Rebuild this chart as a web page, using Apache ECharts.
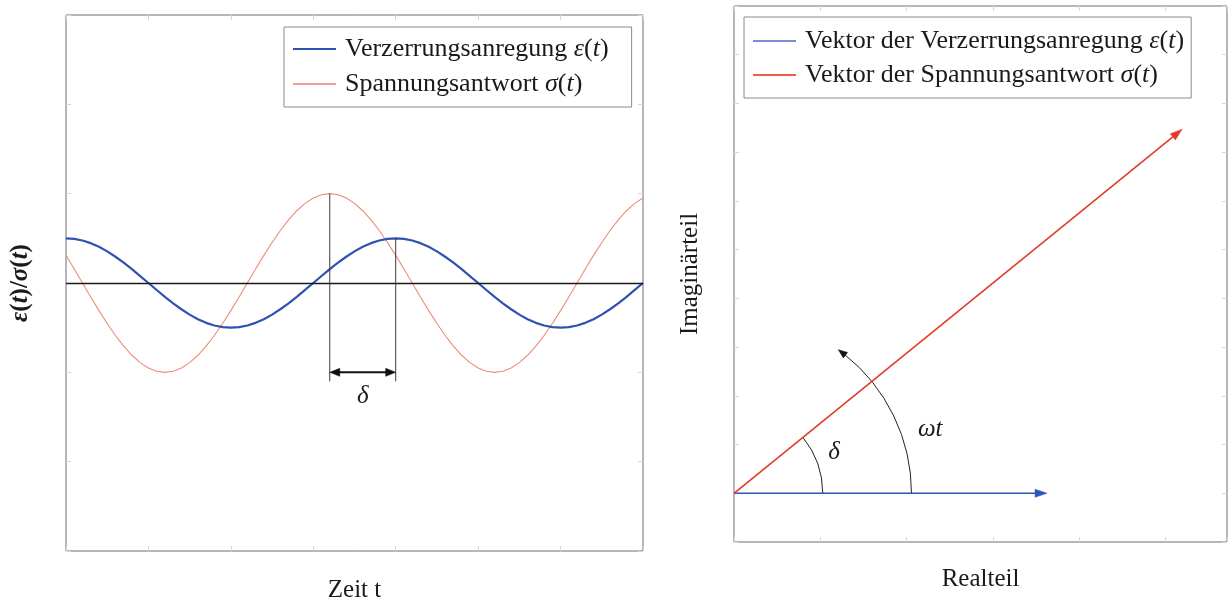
<!DOCTYPE html>
<html lang="de">
<head>
<meta charset="utf-8">
<title>Verzerrungsanregung und Spannungsantwort</title>
<script src="https://cdn.jsdelivr.net/npm/echarts@6/dist/echarts.min.js"></script>
<style>
html, body { margin: 0; padding: 0; background: #fff; }
#chart { width: 1230px; height: 599px; }
</style>
</head>
<body>
<div id="chart"></div>
<script>
// Zeitachse (eine Periode entspricht 4 Einheiten)
const zeit = [
  0, 0.1, 0.2, 0.3, 0.4, 0.5, 0.6, 0.7, 0.8, 0.9, 1, 1.1, 1.2, 1.3, 1.4, 1.5, 1.6, 1.7, 1.8, 1.9,
  2, 2.1, 2.2, 2.3, 2.4, 2.5, 2.6, 2.7, 2.8, 2.9, 3, 3.1, 3.2, 3.3, 3.4, 3.5, 3.6, 3.7, 3.8, 3.9,
  4, 4.1, 4.2, 4.3, 4.4, 4.5, 4.6, 4.7, 4.8, 4.9, 5, 5.1, 5.2, 5.3, 5.4, 5.5, 5.6, 5.7, 5.8, 5.9,
  6, 6.1, 6.2, 6.3, 6.4, 6.5, 6.6, 6.7, 6.8, 6.9, 7];
// Verzerrungsanregung ε(t)
const verzerrung = [
  0.500, 0.494, 0.476, 0.446, 0.405, 0.354, 0.294, 0.227, 0.155, 0.078, 0,
  -0.078, -0.155, -0.227, -0.294, -0.354, -0.405, -0.446, -0.476, -0.494, -0.500,
  -0.494, -0.476, -0.446, -0.405, -0.354, -0.294, -0.227, -0.155, -0.078, 0,
  0.078, 0.155, 0.227, 0.294, 0.354, 0.405, 0.446, 0.476, 0.494, 0.500,
  0.494, 0.476, 0.446, 0.405, 0.354, 0.294, 0.227, 0.155, 0.078, 0,
  -0.078, -0.155, -0.227, -0.294, -0.354, -0.405, -0.446, -0.476, -0.494, -0.500,
  -0.494, -0.476, -0.446, -0.405, -0.354, -0.294, -0.227, -0.155, -0.078, 0];
// Spannungsantwort σ(t), um δ vorauseilend
const spannung = [
  0.309, 0.156, 0,
  -0.156, -0.309, -0.454, -0.588, -0.707, -0.809, -0.891, -0.951, -0.988, -1,
  -0.988, -0.951, -0.891, -0.809, -0.707, -0.588, -0.454, -0.309, -0.156, 0,
  0.156, 0.309, 0.454, 0.588, 0.707, 0.809, 0.891, 0.951, 0.988, 1,
  0.988, 0.951, 0.891, 0.809, 0.707, 0.588, 0.454, 0.309, 0.156, 0,
  -0.156, -0.309, -0.454, -0.588, -0.707, -0.809, -0.891, -0.951, -0.988, -1,
  -0.988, -0.951, -0.891, -0.809, -0.707, -0.588, -0.454, -0.309, -0.156, 0,
  0.156, 0.309, 0.454, 0.588, 0.707, 0.809, 0.891, 0.951];
// Scheitelpunkte, zwischen denen die Phasenverschiebung δ bemaßt wird
const spannungsScheitel = [3.2, 1];
const verzerrungsScheitel = [4, 0.5];
const bemassungsHoehe = -1;
// Zeiger in der komplexen Ebene: [x0, y0, x1, y1]
const zeigerVerzerrung = [0, 0, 6.35, 0];
const zeigerSpannung = [0, 0, 9.09, 7.47];
// Drehwinkel ωt in Grad
const omegaT = 54;

const namenLinks = ['Verzerrungsanregung ε(t)', 'Spannungsantwort σ(t)'];
const namenRechts = ['Vektor der Verzerrungsanregung ε(t)', 'Vektor der Spannungsantwort σ(t)'];

const SERIF = '"Liberation Serif", "Times New Roman", serif';
const TEXT = '#1a1a1a';
const FS = 25;
const FS_LEG = 26;
const BLAU = '#2f52b2';
const ROT = '#f08a7a';
const ZEIGER_BLAU = '#2d55b8';
const ZEIGER_ROT = '#e23c27';

const rich = {
  p: { fontFamily: SERIF, fontSize: FS_LEG, color: TEXT, lineHeight: 24, padding: [0, 0, 0, 4] },
  n: { fontFamily: SERIF, fontSize: FS_LEG, color: TEXT, lineHeight: 24 },
  i: { fontFamily: SERIF, fontSize: FS_LEG, color: TEXT, lineHeight: 24, fontStyle: 'italic' }
};

// "Text ε(t)" -> Rich-Text mit kursiven Formelzeichen
function formel(name) {
  const m = name.match(/^(.*) (\S)\(t\)$/);
  if (!m) return '{p|' + name + '}';
  return '{p|' + m[1] + ' }{i|' + m[2] + '}{n|(}{i|t}{n|)}';
}

function spitze(tip, from, len, wid, color) {
  const dx = tip[0] - from[0], dy = tip[1] - from[1];
  const d = Math.hypot(dx, dy) || 1;
  const ux = dx / d, uy = dy / d;
  const bx = tip[0] - ux * len, by = tip[1] - uy * len;
  return {
    type: 'polygon',
    shape: { points: [[tip[0], tip[1]], [bx - uy * wid / 2, by + ux * wid / 2], [bx + uy * wid / 2, by - ux * wid / 2]] },
    style: { fill: color, stroke: color, lineWidth: 0.5 }
  };
}

function pfeil(opts) {
  return function (params, api) {
    const a = api.coord([api.value(0), api.value(1)]);
    const b = api.coord([api.value(2), api.value(3)]);
    const d = Math.hypot(b[0] - a[0], b[1] - a[1]) || 1;
    const ux = (b[0] - a[0]) / d, uy = (b[1] - a[1]) / d;
    const k = opts.len * 0.8;
    const s = opts.beide ? [a[0] + ux * k, a[1] + uy * k] : a;
    const e = [b[0] - ux * k, b[1] - uy * k];
    const children = [
      { type: 'line', shape: { x1: s[0], y1: s[1], x2: e[0], y2: e[1] }, style: { stroke: opts.color, lineWidth: opts.breite } },
      spitze(b, a, opts.len, opts.wid, opts.color)
    ];
    if (opts.beide) children.push(spitze(a, b, opts.len, opts.wid, opts.color));
    return { type: 'group', children: children };
  };
}

function beschriftung(text) {
  return function (params, api) {
    const p = api.coord([api.value(0), api.value(1)]);
    return {
      type: 'text', x: p[0], y: p[1],
      style: { text: text, fontFamily: SERIF, fontSize: FS, fontStyle: 'italic', fill: TEXT, align: 'center', verticalAlign: 'middle' }
    };
  };
}

const tick = { show: true, inside: true, length: 5, lineStyle: { color: '#d6d6d6', width: 1 } };
function achse(extra) {
  return Object.assign({
    type: 'value', axisLine: { show: false, onZero: false }, axisTick: tick,
    axisLabel: { show: false }, splitLine: { show: false }
  }, extra);
}
const nameStil = { fontFamily: SERIF, fontSize: FS, color: TEXT };

const chart = echarts.init(document.getElementById('chart'));
chart.setOption({
  animation: false,
  backgroundColor: '#fff',
  grid: [
    { left: 66, top: 15, width: 577, height: 536, show: true, borderColor: '#6e6e6e', borderWidth: 1, containLabel: false, outerBoundsMode: 'none' },
    { left: 734, top: 6, width: 493, height: 536, show: true, borderColor: '#6e6e6e', borderWidth: 1, containLabel: false, outerBoundsMode: 'none' }
  ],
  xAxis: [
    achse({ gridIndex: 0, min: 0, max: 7, interval: 1, position: 'bottom',
      name: 'Zeit t', nameLocation: 'middle', nameGap: 27, nameTextStyle: nameStil }),
    achse({ gridIndex: 0, min: 0, max: 7, interval: 1, position: 'top' }),
    achse({ gridIndex: 1, min: 0, max: 10, interval: 1.75, position: 'bottom',
      name: 'Realteil', nameLocation: 'middle', nameGap: 25, nameTextStyle: nameStil }),
    achse({ gridIndex: 1, min: 0, max: 10, interval: 1.75, position: 'top' })
  ],
  yAxis: [
    achse({ gridIndex: 0, min: -3, max: 3, interval: 1, position: 'left',
      name: '{i|ε}{n|(}{i|t}{n|)/}{i|σ}{n|(}{i|t}{n|)}', nameLocation: 'middle', nameGap: 33,
      nameTextStyle: { rich: {
        n: { fontFamily: SERIF, fontSize: FS, color: TEXT, fontWeight: 'bold' },
        i: { fontFamily: SERIF, fontSize: FS, color: TEXT, fontWeight: 'bold', fontStyle: 'italic' }
      } } }),
    achse({ gridIndex: 0, min: -3, max: 3, interval: 1, position: 'right' }),
    achse({ gridIndex: 1, min: -1, max: 10, interval: 1, position: 'left',
      name: 'Imaginärteil', nameLocation: 'middle', nameGap: 31, nameTextStyle: nameStil }),
    achse({ gridIndex: 1, min: -1, max: 10, interval: 1, position: 'right' })
  ],
  legend: [
    {
      data: [
        { name: namenLinks[0], itemStyle: { color: BLAU } },
        { name: namenLinks[1], itemStyle: { color: '#f3a093' } }
      ],
      left: 284, top: 27, orient: 'vertical', icon: 'rect', itemWidth: 43, itemHeight: 2,
      itemGap: 9, padding: [9, 23, 10, 9], borderColor: '#8a8a8a', borderWidth: 1,
      backgroundColor: '#fff', selectedMode: false, formatter: formel,
      textStyle: { fontFamily: SERIF, fontSize: FS_LEG, color: TEXT, rich: rich }
    },
    {
      data: [
        { name: namenRechts[0], itemStyle: { color: '#6f90d4' } },
        { name: namenRechts[1], itemStyle: { color: '#ec5e47' } }
      ],
      left: 744, top: 17, orient: 'vertical', icon: 'rect', itemWidth: 43, itemHeight: 2,
      itemGap: 8, padding: [11, 7, 10, 9], borderColor: '#8a8a8a', borderWidth: 1,
      backgroundColor: '#fff', selectedMode: false, formatter: formel,
      textStyle: { fontFamily: SERIF, fontSize: FS_LEG, color: TEXT, rich: rich }
    }
  ],
  series: [
    {
      name: namenLinks[1], type: 'line', xAxisIndex: 0, yAxisIndex: 0,
      data: zeit.map((t, i) => [t, spannung[i]]), smooth: false, showSymbol: false, silent: true,
      lineStyle: { color: ROT, width: 1.1 }, itemStyle: { color: ROT }, z: 3
    },
    {
      name: namenLinks[0], type: 'line', xAxisIndex: 0, yAxisIndex: 0,
      data: zeit.map((t, i) => [t, verzerrung[i]]), smooth: false, showSymbol: false, silent: true,
      lineStyle: { color: BLAU, width: 2.2, join: 'round' }, itemStyle: { color: BLAU }, z: 4,
      markLine: {
        silent: true, symbol: 'none', label: { show: false },
        lineStyle: { color: '#1a1a1a', width: 1.3, type: 'solid' },
        data: [{ yAxis: 0 }]
      }
    },
    {
      type: 'line', xAxisIndex: 0, yAxisIndex: 0, silent: true, showSymbol: false,
      data: [spannungsScheitel, [spannungsScheitel[0], bemassungsHoehe - 0.1]],
      lineStyle: { color: '#3a3a3a', width: 1 }, z: 5
    },
    {
      type: 'line', xAxisIndex: 0, yAxisIndex: 0, silent: true, showSymbol: false,
      data: [verzerrungsScheitel, [verzerrungsScheitel[0], bemassungsHoehe - 0.1]],
      lineStyle: { color: '#3a3a3a', width: 1 }, z: 5
    },
    {
      type: 'custom', xAxisIndex: 0, yAxisIndex: 0, silent: true, z: 6,
      encode: { x: [0, 2], y: [1, 3] },
      data: [[spannungsScheitel[0], bemassungsHoehe, verzerrungsScheitel[0], bemassungsHoehe]],
      renderItem: pfeil({ color: '#111', breite: 2, len: 10, wid: 8, beide: true })
    },
    {
      type: 'custom', xAxisIndex: 0, yAxisIndex: 0, silent: true, z: 6,
      data: [[(spannungsScheitel[0] + verzerrungsScheitel[0]) / 2, -1.27]],
      renderItem: beschriftung('δ')
    },
    {
      name: namenRechts[0], type: 'custom', xAxisIndex: 2, yAxisIndex: 2, silent: true, z: 5,
      encode: { x: [0, 2], y: [1, 3] }, itemStyle: { color: ZEIGER_BLAU },
      data: [zeigerVerzerrung],
      renderItem: pfeil({ color: ZEIGER_BLAU, breite: 1.6, len: 12, wid: 8 })
    },
    {
      name: namenRechts[1], type: 'custom', xAxisIndex: 2, yAxisIndex: 2, silent: true, z: 5,
      encode: { x: [0, 2], y: [1, 3] }, itemStyle: { color: ZEIGER_ROT },
      data: [zeigerSpannung],
      renderItem: pfeil({ color: ZEIGER_ROT, breite: 1.6, len: 12, wid: 8 })
    },
    {
      // Winkelbögen δ und ωt um den Ursprung
      type: 'custom', xAxisIndex: 2, yAxisIndex: 2, silent: true, z: 4,
      data: [[zeigerSpannung[0], zeigerSpannung[1]]],
      renderItem: function (params, api) {
        const o = api.coord([zeigerSpannung[0], zeigerSpannung[1]]);
        const s = api.coord([zeigerSpannung[2], zeigerSpannung[3]]);
        const phi = Math.atan2(o[1] - s[1], s[0] - o[0]);
        const r1 = api.size([1.8, 0])[0];
        const r2 = api.size([3.6, 0])[0];
        const phiW = omegaT * Math.PI / 180;
        const len = 9;
        const dphi = len / r2;
        const tip = [o[0] + r2 * Math.cos(phiW), o[1] - r2 * Math.sin(phiW)];
        const base = [o[0] + r2 * Math.cos(phiW - dphi), o[1] - r2 * Math.sin(phiW - dphi)];
        const stil = { stroke: '#222', fill: 'none', lineWidth: 1 };
        return {
          type: 'group', children: [
            { type: 'arc', shape: { cx: o[0], cy: o[1], r: r1, startAngle: -phi, endAngle: 0, clockwise: true }, style: stil },
            { type: 'arc', shape: { cx: o[0], cy: o[1], r: r2, startAngle: -(phiW - dphi * 0.8), endAngle: 0, clockwise: true }, style: stil },
            spitze(tip, base, len, 7, '#111')
          ]
        };
      }
    },
    {
      type: 'custom', xAxisIndex: 2, yAxisIndex: 2, silent: true, z: 6,
      data: [[2.03, 0.84]], renderItem: beschriftung('δ')
    },
    {
      type: 'custom', xAxisIndex: 2, yAxisIndex: 2, silent: true, z: 6,
      data: [[3.98, 1.31]], renderItem: beschriftung('ωt')
    }
  ]
});
</script>
</body>
</html>
